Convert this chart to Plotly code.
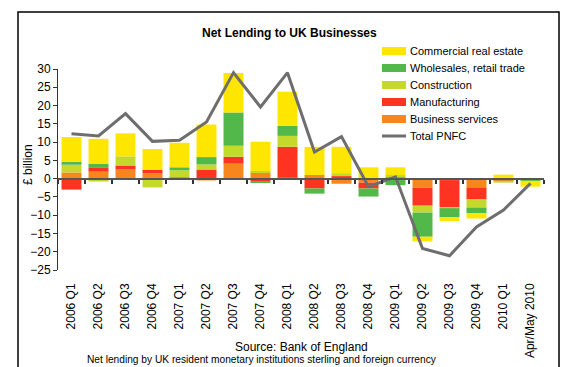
import plotly.graph_objects as go

categories = ["2006 Q1", "2006 Q2", "2006 Q3", "2006 Q4", "2007 Q1", "2007 Q2",
              "2007 Q3", "2007 Q4", "2008 Q1", "2008 Q2", "2008 Q3", "2008 Q4",
              "2009 Q1", "2009 Q2", "2009 Q3", "2009 Q4", "2010 Q1", "Apr/May 2010"]

business_services = [1.7, 1.9, 2.5, 1.5, 0.4, -0.5, 4.1, 1.8, 0.3, 1.0, -1.4, -1.1,
                     0.4, -2.5, -0.4, -2.4, -0.2, 0.0]
manufacturing = [-3.0, 1.2, 1.1, 0.9, -0.3, 2.5, 1.9, -0.7, 8.4, -2.7, 0.7, -1.6,
                 0.0, -4.9, -7.4, -3.3, -0.3, 0.0]
construction = [2.1, -0.8, 2.5, -2.4, 1.9, 1.4, 3.0, 0.3, 3.0, 0.0, 0.8, 0.0,
                0.6, -1.9, -0.3, -2.2, -0.6, -0.3]
wholesale_retail = [0.8, 1.0, -0.2, 0.0, 0.8, 2.0, 9.1, -0.5, 2.8, -1.4, 0.0, -2.2,
                    -1.8, -6.6, -2.5, -1.6, 0.0, -0.3]
commercial_real_estate = [6.8, 6.8, 6.3, 5.7, 6.7, 8.9, 10.8, 8.0, 9.3, 7.7, 7.2, 3.1,
                          2.1, -1.3, -1.0, -1.4, 1.1, -1.6]
total_pnfc = [12.3, 11.7, 17.8, 10.2, 10.5, 15.5, 29.0, 19.6, 29.0, 7.3, 11.5, -2.2,
              0.5, -19.1, -21.1, -13.2, -8.6, -1.3]

y_ticks = [30, 25, 20, 15, 10, 5, 0, -5, -10, -15, -20, -25]

FONT = "Liberation Sans, Arial, sans-serif"
LINE_COLOR = "#6E6E6E"

series = [
    ("Business services", business_services, "#F7861C"),
    ("Manufacturing", manufacturing, "#FF3322"),
    ("Construction", construction, "#C5D92D"),
    ("Wholesales, retail trade", wholesale_retail, "#52B84A"),
    ("Commercial real estate", commercial_real_estate, "#FFE600"),
]

fig = go.Figure()
for name, vals, col in series:
    fig.add_trace(go.Bar(x=categories, y=vals, name=name, marker_color=col,
                         marker_line_width=0))

fig.add_trace(go.Scatter(x=categories, y=total_pnfc, name="Total PNFC", mode="lines",
                         line=dict(color=LINE_COLOR, width=3), xaxis="x2"))

# plot area: x 58..544, y 69..270 (pixels)
W, H = 565, 367
L, R, T, B = 58, 544, 69, 270
pw, ph = R - L, B - T

def px(x):
    return (x - L) / pw

def py(y):
    return (B - y) / ph

shapes = [dict(type="rect", xref="paper", yref="paper",
               x0=px(18), x1=px(559), y0=py(390), y1=py(12),
               line=dict(color="black", width=1.5), fillcolor="rgba(0,0,0,0)",
               layer="below")]
annotations = [
    dict(text="<b>Net Lending to UK Businesses</b>", xref="paper", yref="paper",
         x=px(289), y=py(33), xanchor="center", yanchor="middle",
         showarrow=False, font=dict(size=12, family=FONT)),
    dict(text="£ billion", xref="paper", yref="paper", x=px(28), y=py(165),
         xanchor="center", yanchor="middle", textangle=-90, showarrow=False,
         font=dict(size=12, family=FONT)),
    dict(text="Source: Bank of England", xref="paper", yref="paper",
         x=px(301), y=py(347), xanchor="center", yanchor="middle",
         showarrow=False, font=dict(size=12, family=FONT)),
    dict(text="Net lending by UK resident monetary institutions sterling and foreign currency",
         xref="paper", yref="paper", x=px(262), y=py(366.5), xanchor="center",
         yanchor="bottom", showarrow=False, font=dict(size=10.2, family=FONT)),
]

# legend (drawn manually to match the reference layout)
legend_items = [(s[0], s[2]) for s in reversed(series)] + [("Total PNFC", None)]
for i, (name, col) in enumerate(legend_items):
    yc = 51 + i * 17
    if col is not None:
        shapes.append(dict(type="rect", xref="paper", yref="paper",
                           x0=px(382), x1=px(406), y0=py(yc + 4), y1=py(yc - 4),
                           line=dict(width=0), fillcolor=col))
    else:
        shapes.append(dict(type="line", xref="paper", yref="paper",
                           x0=px(382), x1=px(406), y0=py(yc), y1=py(yc),
                           line=dict(color=LINE_COLOR, width=3)))
    annotations.append(dict(text=name, xref="paper", yref="paper",
                            x=px(408), y=py(yc), xanchor="left", yanchor="middle",
                            showarrow=False, font=dict(size=11, family=FONT)))

fig.update_layout(
    width=W, height=H,
    margin=dict(l=L, r=W - R, t=T, b=H - B, pad=0),
    paper_bgcolor="white", plot_bgcolor="white",
    barmode="relative", bargap=0.26,
    font=dict(family=FONT, size=12, color="black"),
    showlegend=False,
    xaxis=dict(type="category", showline=False, ticks="", showgrid=False,
               tickangle=-90, tickfont=dict(size=12), ticklabelstandoff=10,
               automargin=False, zeroline=False),
    xaxis2=dict(type="category", overlaying="x", anchor="free", position=25 / 55,
                matches="x", showline=True, linecolor="#555555", linewidth=2,
                ticks="outside", ticklen=4, tickwidth=1.5, tickcolor="#333333",
                tickson="boundaries", showticklabels=False, showgrid=False,
                automargin=False),
    yaxis=dict(range=[-25, 30], tickvals=y_ticks, showline=True, linecolor="#333333",
               linewidth=1, ticks="outside", ticklen=4, tickcolor="#333333",
               showgrid=False, zeroline=False, tickfont=dict(size=12),
               automargin=False),
    shapes=shapes,
    annotations=annotations,
)

fig.write_html("out.html")
